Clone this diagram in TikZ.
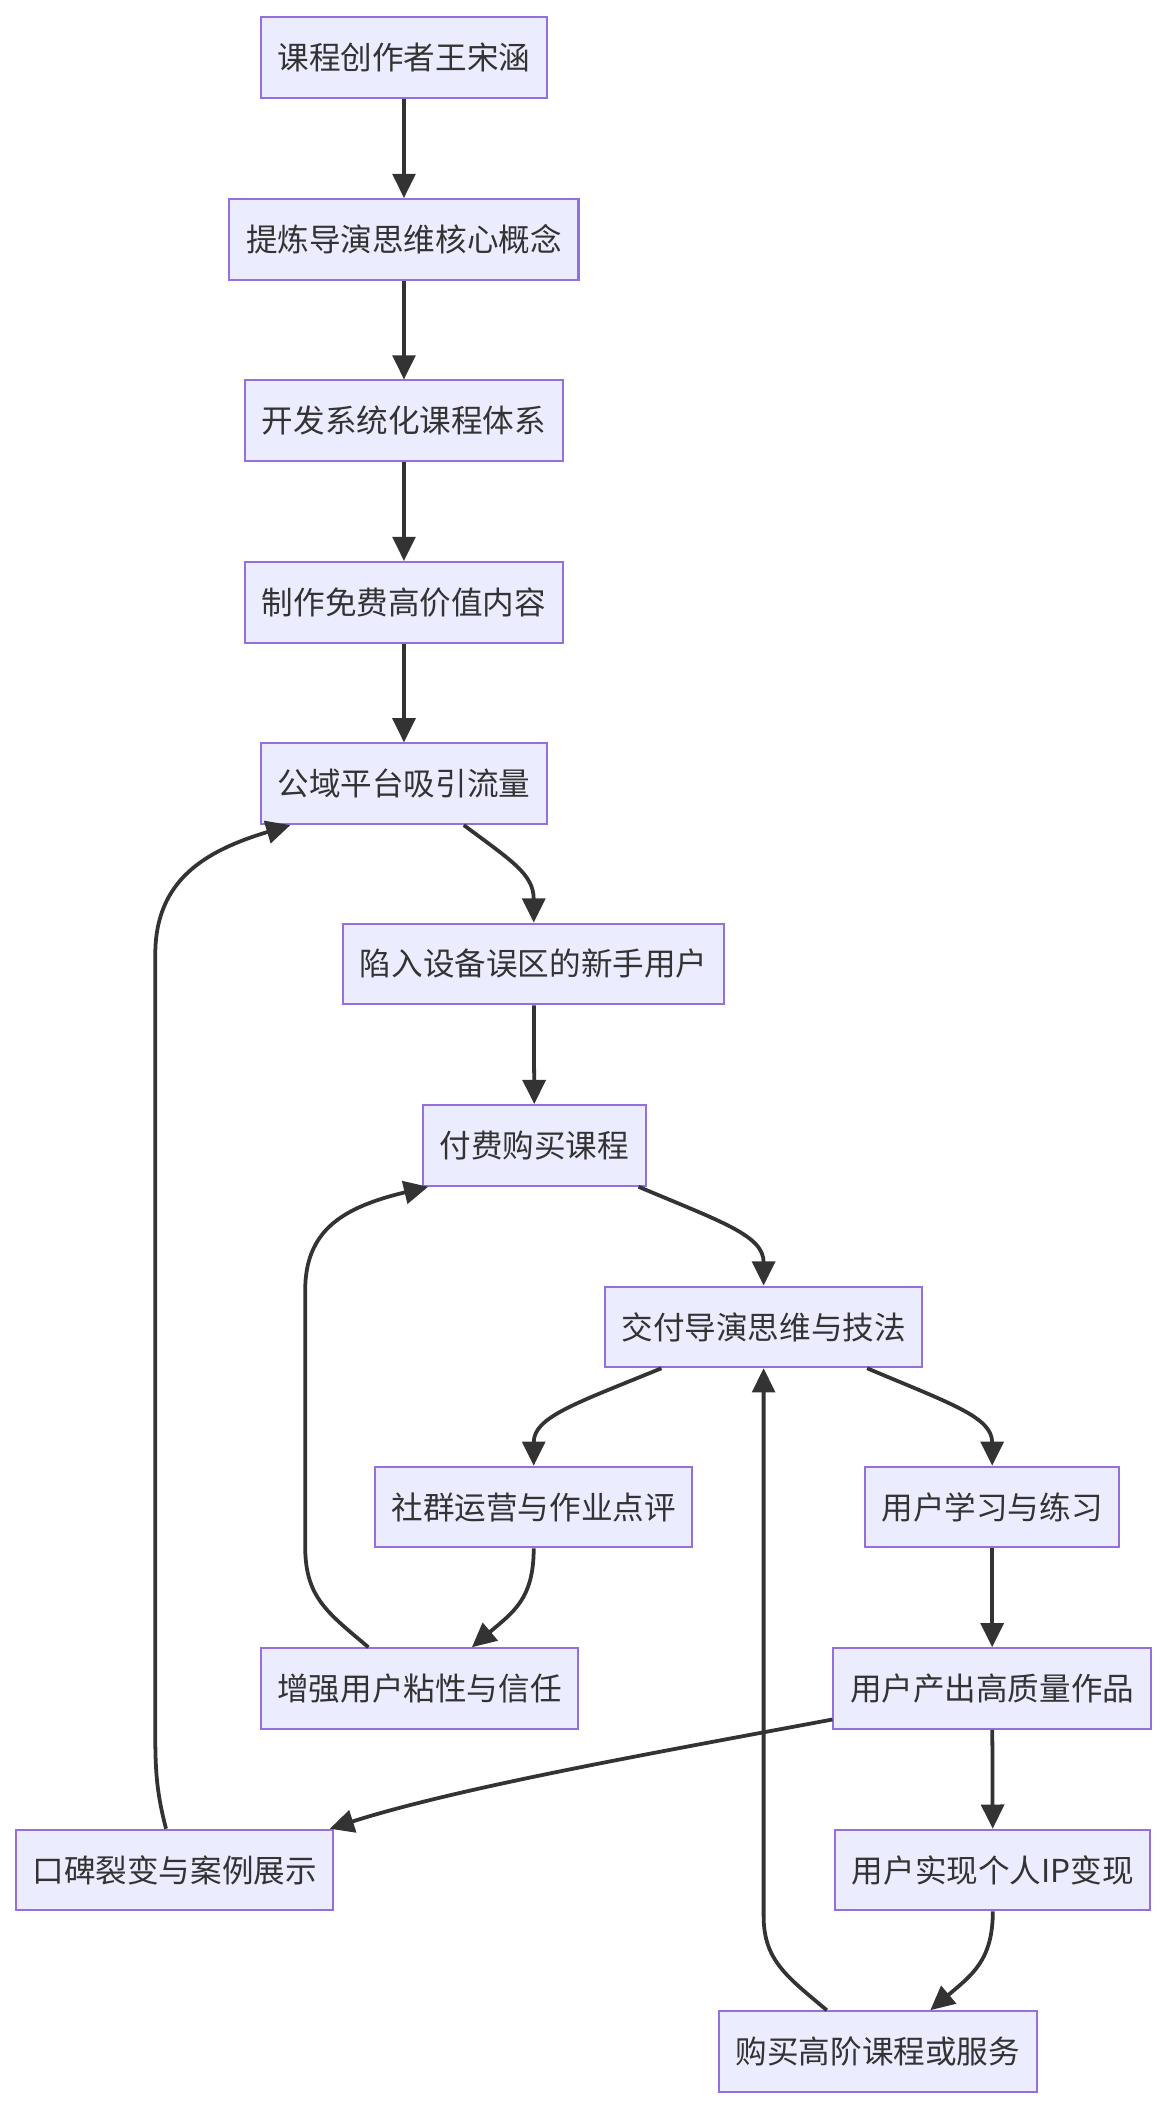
\documentclass[tikz,border=0pt]{standalone}
\usepackage{fontspec}
\setmainfont{Noto Sans CJK SC}
\usetikzlibrary{arrows.meta}
\definecolor{nodefill}{HTML}{ECECFF}
\definecolor{nodeborder}{HTML}{9370DB}
\definecolor{edgecol}{HTML}{333333}
\tikzset{
  box/.style={draw=nodeborder, fill=nodefill, line width=1.5pt, minimum height=60pt,
    inner xsep=12.3pt, inner ysep=0pt, text=edgecol, font=\fontsize{23.5}{28}\selectfont},
  link/.style={draw=edgecol, line width=2.8pt, -{Triangle[length=18pt,width=17pt]}}
}
\begin{document}
\begin{tikzpicture}[x=1pt,y=-1pt]
\fill[white] (0,0) rectangle (869,1568);
\useasboundingbox (0,0) rectangle (869,1568);
\node[box] (n1) at (300.5,43) {课程创作者王宋涵};
\node[box] (n2) at (300.5,178) {提炼导演思维核心概念};
\node[box] (n3) at (300.5,313) {开发系统化课程体系};
\node[box] (n4) at (300.5,448) {制作免费高价值内容};
\node[box] (n5) at (300.5,583) {公域平台吸引流量};
\node[box] (n6) at (397,717) {陷入设备误区的新手用户};
\node[box] (n7) at (397.5,852) {付费购买课程};
\node[box] (n8) at (568,987) {交付导演思维与技法};
\node[box] (n9) at (397,1121) {社群运营与作业点评};
\node[box] (n10) at (738,1121) {用户学习与练习};
\node[box] (n11) at (312,1256) {增强用户粘性与信任};
\node[box] (n12) at (738,1256) {用户产出高质量作品};
\node[box] (n13) at (130,1391) {口碑裂变与案例展示};
\node[box] (n14) at (738.5,1391) {用户实现个人IP变现};
\node[box] (n15) at (653,1526) {购买高阶课程或服务};

\draw[link] (n1) -- (n2);
\draw[link] (n2) -- (n3);
\draw[link] (n3) -- (n4);
\draw[link] (n4) -- (n5);
\draw[link] ([xshift=44.5pt]n5.south) .. controls (380,640) and (397,650) .. (n6.north);
\draw[link] (n6) -- (n7);
\draw[link] ([xshift=77.5pt]n7.south) .. controls (537,909) and (568,919) .. (n8.north);
\draw[link] ([xshift=-76pt]n8.south) .. controls (428,1044) and (397,1054) .. (n9.north);
\draw[link] ([xshift=77pt]n8.south) .. controls (707,1044) and (738,1054) .. (n10.north);
\draw[link] (n9.south) .. controls (397,1189) and (382,1199) .. ([xshift=39pt]n11.north);
\draw[link] (n10) -- (n12);
\draw[link] ([xshift=-38pt]n11.north) .. controls (243,1199) and (227,1188) .. (227,1150)
  -- (227,960) .. controls (227,915) and (255,898) .. ([xshift=-79pt]n7.south);
\draw[link] ([yshift=-23pt]n12.west) .. controls (480,1305) and (340,1330) .. ([xshift=-3.5pt]n13.north east);
\draw[link] (n12) -- (n14);
\draw[link] (n14.south) .. controls (738.5,1458) and (723,1469) .. ([xshift=39pt]n15.north);
\draw[link] ([xshift=-6.5pt]n13.north) .. controls (117,1335) and (115.5,1320) .. (115.5,1290)
  -- (115.5,710) .. controls (115.5,655) and (152,633) .. ([xshift=-84.5pt]n5.south);
\draw[link] ([xshift=-38pt]n15.north) .. controls (585,1470) and (568,1458) .. (568,1425) -- (n8.south);
\end{tikzpicture}
\end{document}
